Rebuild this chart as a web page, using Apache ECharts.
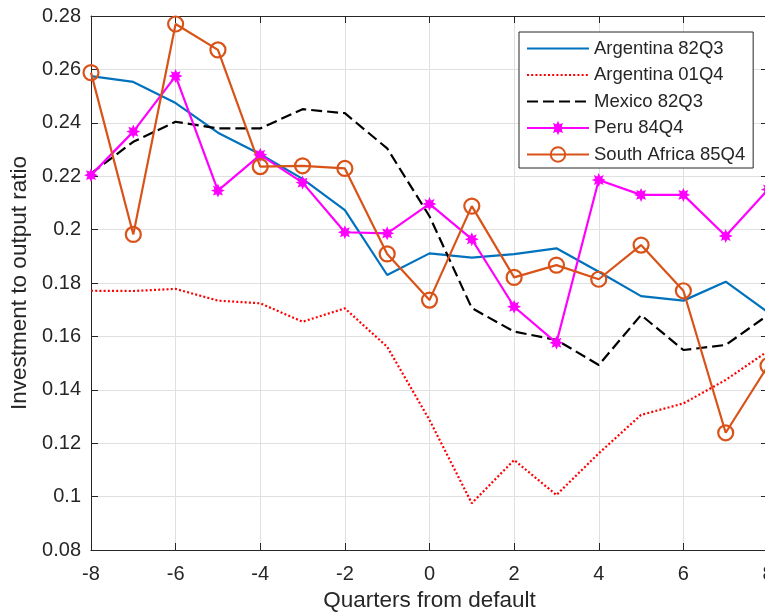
<!DOCTYPE html>
<html>
<head>
<meta charset="utf-8">
<script src="https://cdn.jsdelivr.net/npm/echarts@6/dist/echarts.min.js"></script>
<style>
  html, body { margin: 0; padding: 0; background: #fff; }
  #chart { width: 765px; height: 615px; }
</style>
</head>
<body>
<div id="chart"></div>
<script>
const quarters = [-8, -7, -6, -5, -4, -3, -2, -1, 0, 1, 2, 3, 4, 5, 6, 7, 8];
const argentina82Q3 = [0.2575, 0.2553, 0.2474, 0.2363, 0.2282, 0.2190, 0.2073, 0.1830, 0.1911, 0.1895, 0.1908, 0.1930, 0.1842, 0.1751, 0.1734, 0.1805, 0.1690];
const argentina01Q4 = [0.1771, 0.1770, 0.1778, 0.1734, 0.1724, 0.1655, 0.1705, 0.1561, 0.1287, 0.0975, 0.1137, 0.1006, 0.1162, 0.1306, 0.1349, 0.1437, 0.1545];
const mexico82Q3 = [0.2210, 0.2329, 0.2404, 0.2379, 0.2379, 0.2451, 0.2436, 0.2304, 0.2050, 0.1706, 0.1618, 0.1587, 0.1493, 0.1680, 0.1549, 0.1568, 0.1680];
const peru84Q4 = [0.2204, 0.2367, 0.2575, 0.2146, 0.2280, 0.2176, 0.1990, 0.1986, 0.2096, 0.1964, 0.1711, 0.1576, 0.2186, 0.2130, 0.2130, 0.1976, 0.2150];
const southAfrica85Q4 = [0.2588, 0.1982, 0.2770, 0.2673, 0.2236, 0.2239, 0.2229, 0.1909, 0.1736, 0.2088, 0.1821, 0.1867, 0.1814, 0.1942, 0.1771, 0.1239, 0.1490];

const seriesNames = ['Argentina 82Q3', 'Argentina 01Q4', 'Mexico 82Q3', 'Peru 84Q4', 'South Africa 85Q4'];
const xTitle = 'Quarters from default';
const yTitle = 'Investment to output ratio';

const FONT = '"Liberation Sans", Arial, Helvetica, sans-serif';
const TXT = '#262626';
const starPath = 'path://M20 10 L15.08 12.1 L17.07 17.07 L12.1 15.08 L10 20 L7.9 15.08 L2.93 17.07 L4.92 12.1 L0 10 L4.92 7.9 L2.93 2.93 L7.9 4.92 L10 0 L12.1 4.92 L17.07 2.93 L15.08 7.9 Z';

function pairs(arr) { return quarters.map((q, i) => [q, arr[i]]); }

const chart = echarts.init(document.getElementById('chart'), null, { renderer: 'canvas' });

const boxAxisCommon = {
  axisLine: { show: true, onZero: false, lineStyle: { color: TXT, width: 1 } },
  axisTick: { show: true, inside: true, length: 7, lineStyle: { color: TXT, width: 1 } },
  axisLabel: { show: false },
  splitLine: { show: false }
};

const noMarker = { opacity: 0 };

const option = {
  backgroundColor: '#fff',
  animation: false,
  grid: { left: 91, right: -3, top: 16, bottom: 65, containLabel: false, outerBoundsMode: 'none' },
  legend: {
    show: true,
    orient: 'vertical',
    left: 519,
    top: 32,
    padding: [7, 8, 4, 7],
    itemGap: 7.5,
    itemWidth: 62,
    itemHeight: 18,
    backgroundColor: '#fff',
    borderColor: TXT,
    borderWidth: 1,
    borderRadius: 0,
    textStyle: { fontFamily: FONT, fontSize: 18.5, color: TXT, lineHeight: 18, padding: [0, 0, 0, 0] },
    data: [
      { name: seriesNames[0], itemStyle: noMarker },
      { name: seriesNames[1], itemStyle: noMarker },
      { name: seriesNames[2], itemStyle: noMarker },
      { name: seriesNames[3] },
      { name: seriesNames[4] }
    ]
  },
  xAxis: [
    {
      type: 'value', min: -8, max: 8, interval: 2, position: 'bottom',
      name: xTitle, nameLocation: 'middle', nameGap: 38,
      nameTextStyle: { fontFamily: FONT, fontSize: 22.5, color: TXT },
      axisLine: { show: true, onZero: false, lineStyle: { color: TXT, width: 1 } },
      axisTick: { show: true, inside: true, length: 7, lineStyle: { color: TXT, width: 1 } },
      axisLabel: { fontFamily: FONT, fontSize: 20, color: TXT, margin: 14, hideOverlap: false, showMinLabel: true, showMaxLabel: true },
      splitLine: { show: true, lineStyle: { color: '#e0e0e0', width: 1 } }
    },
    Object.assign({ type: 'value', min: -8, max: 8, interval: 2, position: 'top' }, boxAxisCommon)
  ],
  yAxis: [
    {
      type: 'value', min: 0.08, max: 0.28, interval: 0.02, position: 'left',
      name: yTitle, nameLocation: 'middle', nameGap: 50, nameRotate: 90,
      nameTextStyle: { fontFamily: FONT, fontSize: 22.5, color: TXT },
      axisLine: { show: true, onZero: false, lineStyle: { color: TXT, width: 1 } },
      axisTick: { show: true, inside: true, length: 7, lineStyle: { color: TXT, width: 1 } },
      axisLabel: {
        fontFamily: FONT, fontSize: 20, color: TXT, margin: 10,
        formatter: v => String(parseFloat(v.toFixed(2)))
      },
      splitLine: { show: true, lineStyle: { color: '#e0e0e0', width: 1 } }
    },
    Object.assign({ type: 'value', min: 0.08, max: 0.28, interval: 0.02, position: 'right' }, boxAxisCommon)
  ],
  series: [
    {
      name: seriesNames[0], type: 'line', data: pairs(argentina82Q3),
      showSymbol: false, symbol: 'none',
      lineStyle: { color: '#0072BD', width: 2.2 }, itemStyle: { color: '#0072BD' }
    },
    {
      name: seriesNames[1], type: 'line', data: pairs(argentina01Q4),
      showSymbol: false, symbol: 'none',
      lineStyle: { color: '#FF0000', width: 2.2, type: [2, 2.2] }, itemStyle: { color: '#FF0000' }
    },
    {
      name: seriesNames[2], type: 'line', data: pairs(mexico82Q3),
      showSymbol: false, symbol: 'none',
      lineStyle: { color: '#000000', width: 2.2, type: [11, 5] }, itemStyle: { color: '#000000' }
    },
    {
      name: seriesNames[3], type: 'line', data: pairs(peru84Q4),
      symbol: starPath, symbolSize: 14, showAllSymbol: true,
      lineStyle: { color: '#FF00FF', width: 2.2 }, itemStyle: { color: '#FF00FF' }
    },
    {
      name: seriesNames[4], type: 'line', data: pairs(southAfrica85Q4),
      symbol: 'circle', symbolSize: 15, showAllSymbol: true,
      lineStyle: { color: '#D95319', width: 2.2 },
      itemStyle: { color: 'rgba(255,255,255,0)', borderColor: '#D95319', borderWidth: 2.2 }
    }
  ]
};

chart.setOption(option);
</script>
</body>
</html>
